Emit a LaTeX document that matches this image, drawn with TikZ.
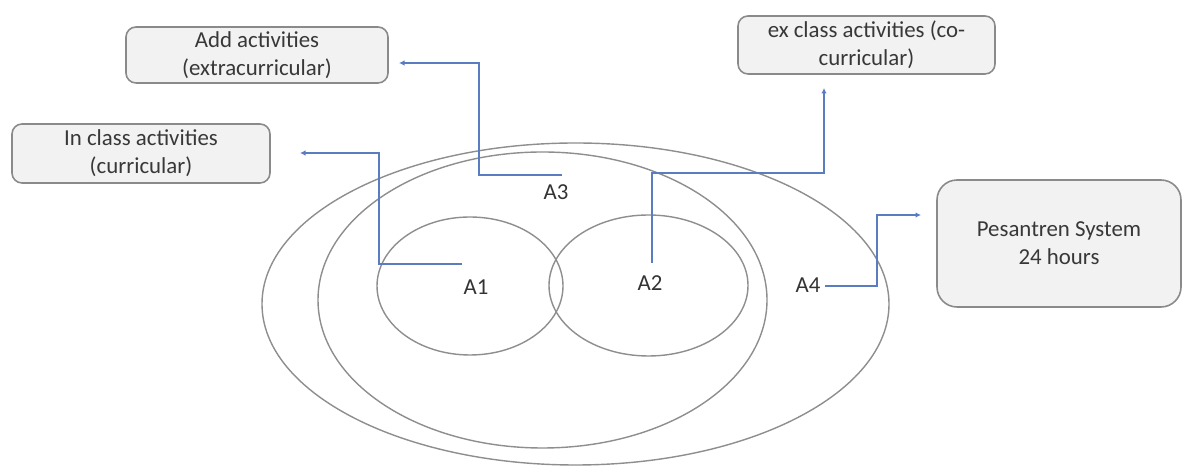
\documentclass[tikz,border=0pt]{standalone}
\usepackage{fontspec}
\setmainfont{Carlito}
\usepackage{tikz}
\usetikzlibrary{arrows.meta}
\tikzset{>={Latex[width=1.1mm,length=1.1mm]}}
\definecolor{linkblue}{HTML}{5A7DC2}
\definecolor{ringgray}{HTML}{8E8E8E}
\definecolor{boxfill}{HTML}{F2F2F2}
\definecolor{boxline}{HTML}{8A8A8A}
\tikzset{
  box/.style={draw=boxline, fill=boxfill, line width=0.9pt, rounded corners=2mm,
    align=center, inner sep=0pt, text=black!78, font=\fontsize{13}{16}\selectfont},
  ring/.style={draw=ringgray, line width=0.8pt},
  link/.style={draw=linkblue, line width=0.6pt, ->},
  tag/.style={text=black!80, font=\fontsize{13}{16}\selectfont}
}

\begin{document}
\begin{tikzpicture}[x=0.2mm, y=-0.2mm]
  \useasboundingbox (0,0) rectangle (1182,466);

  % sets
  \draw[ring] (575.5,304) ellipse [x radius=313.5, y radius=161];
  \draw[ring] (542.5,300) ellipse [x radius=224.5, y radius=148];
  \draw[ring] (470,286) ellipse [x radius=93, y radius=69];
  \draw[ring] (648.5,285.5) ellipse [x radius=99.5, y radius=70.5];

  \node[tag] (A1) at (476,287) {A1};
  \node[tag] (A2) at (650,283) {A2};
  \node[tag] (A3) at (556,192) {A3};
  \node[tag] (A4) at (808,285) {A4};

  % activity boxes
  \node[box, minimum width=5.24cm, minimum height=1.12cm] (ADD) at (257,55)
    {Add activities\\(extracurricular)};
  \node[box, minimum width=5.16cm, minimum height=1.18cm] (INCLASS) at (141,153.5)
    {In class activities\\(curricular)};
  \node[box, minimum width=5.14cm, minimum height=1.16cm] (EXCLASS) at (866.5,45)
    {ex class activities (co-\\curricular)};
  \node[box, rounded corners=4mm, minimum width=4.88cm, minimum height=2.54cm] (PESANTREN) at (1059,243.5)
    {Pesantren System\\24 hours};

  \coordinate (S1) at (462,264);
  \coordinate (E1) at (300,153);
  \coordinate (S2) at (652,263);
  \coordinate (E2) at (824,88);
  \coordinate (S3) at (562,175);
  \coordinate (E3) at (399,63);
  \coordinate (S4) at (825,286);
  \coordinate (E4) at (921,215);

  \draw[link] (S1) -- (379,264) |- (E1);
  \draw[link] (S2) -- (652,173) -| (E2);
  \draw[link] (S3) -- (479,175) |- (E3);
  \draw[link] (S4) -- (877,286) |- (E4);
\end{tikzpicture}
\end{document}
